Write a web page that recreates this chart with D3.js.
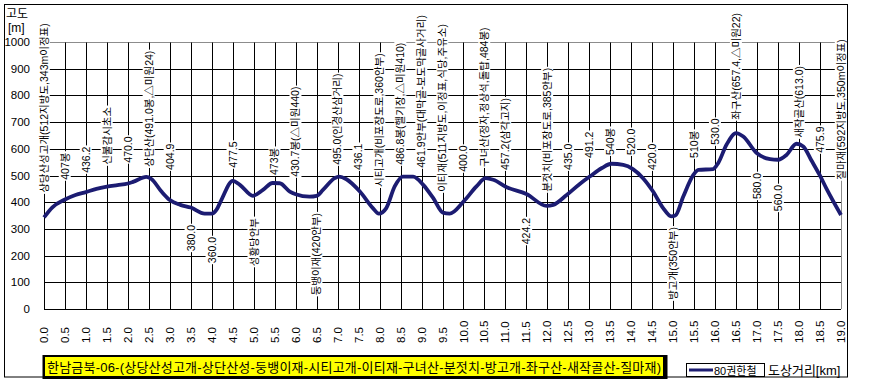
<!DOCTYPE html>
<meta charset="utf-8">
<script src="https://d3js.org/d3.v7.min.js"></script>
<style>
  body { margin: 0; background: #fff; }
  svg text { font-family: 'Liberation Sans', 'Noto Sans CJK KR', sans-serif; }
</style>
<body>
<div id="my_dataviz"></div>
<script>

// profile (distance km / elevation m)
var distKm = [0.0, 0.2, 0.5, 0.75, 1.0, 1.25, 1.5, 1.75, 2.0, 2.12, 2.44, 2.56, 2.8, 3.0, 3.25, 3.5,
  3.83, 4.0, 4.11, 4.23, 4.5, 4.67, 4.98, 5.22, 5.45, 5.62, 5.86, 6.0, 6.33, 6.5, 6.65, 6.93,
  7.03, 7.21, 7.53, 7.84, 7.98, 8.16, 8.36, 8.55, 8.8, 9.04, 9.28, 9.51, 9.67, 10.0, 10.31, 10.53,
  10.71, 11.03, 11.5, 11.98, 12.14, 12.46, 12.78, 13.01, 13.3, 13.53, 13.81, 14.04, 14.28, 14.52,
  14.76, 14.95, 15.05, 15.24, 15.48, 15.6, 15.95, 16.07, 16.27, 16.5, 16.67, 16.99, 17.31, 17.5,
  17.7, 17.94, 18.1, 18.3, 18.49, 18.65, 19.0];
var elevM = [343, 381, 410, 427, 438, 450, 458, 464, 470, 476, 495, 487, 440, 408, 390, 380,
  357, 357, 371, 409, 480, 465, 424, 446, 472, 471, 440, 430, 421, 424, 446, 490,
  496, 486, 440, 378, 357, 378, 459, 496, 496, 465, 415, 361, 357, 402, 459, 490,
  484, 456, 431, 386, 390, 427, 469, 496, 528, 544, 540, 524, 490, 440,
  378, 347, 350, 421, 502, 521, 524, 546, 615, 659, 646, 584, 561, 559,
  577, 619, 609, 555, 502, 452, 352];

var yTicks = [0, 100, 200, 300, 400, 500, 600, 700, 800, 900, 1000];
var xTicks = [0.0, 0.5, 1.0, 1.5, 2.0, 2.5, 3.0, 3.5, 4.0, 4.5, 5.0, 5.5, 6.0, 6.5, 7.0, 7.5, 8.0, 8.5, 9.0, 9.5,
  10.0, 10.5, 11.0, 11.5, 12.0, 12.5, 13.0, 13.5, 14.0, 14.5, 15.0, 15.5, 16.0, 16.5, 17.0, 17.5, 18.0, 18.5, 19.0];

// waypoint notes: where (km), what, height (m) the note starts, above/below the line
var noteKm = [0.0, 0.5, 1.0, 1.5, 2.0, 2.5, 3.0, 3.5, 4.0, 4.5, 5.0, 5.5, 6.0, 6.5, 7.0, 7.5, 8.0, 8.5, 9.0, 9.5,
  10.0, 10.5, 11.0, 11.5, 12.0, 12.5, 13.0, 13.5, 14.0, 14.5, 15.0, 15.5, 16.0, 16.5, 17.0, 17.5, 18.0, 18.5, 19.0];
var noteText = [
  "상당산성고개(512지방도,343m이정표)", "407봉", "436.2", "신불감시초소", "470.0",
  "상단산(491.0봉,△미원24)", "404.9", "380.0", "360.0", "477.5",
  "성황당안부", "473봉", "430.7봉(△미원440)", "둥뱅이재(420안부)", "495.0(인경산삼거리)",
  "436.1", "시티고개(비포장도로,360안부)", "486.8봉(헬기장,△미원410)", "461.9안부(대막골-보도막골사거리)", "이티재(511지방도,이정표,식당,주유소)",
  "400.0", "구녀산(정자,정상석,돌탑,484봉)", "457.2(삼각고지)", "424.2", "분젓치(비포장도로,385안부)",
  "435.0", "491.2", "540봉", "520.0", "420.0",
  "방고개(350안부)", "510봉", "530.0", "좌구산(657.4,△미원22)", "580.0",
  "560.0", "새작골산(613.0)", "475.9", "질마재(592지방도,350m이정표)"];
var noteAt = [435, 484, 510, 540, 548, 532, 521, 315, 270, 529,
  341, 502, 495, 360, 540, 521, 457, 540, 529, 439,
  514, 532, 521, 341, 439, 521, 566, 577, 577, 521,
  307, 566, 615, 709, 510, 465, 641, 585, 484];
var noteUp = [1, 1, 1, 1, 1, 1, 1, 0, 0, 1, 0, 1, 1, 0, 1, 1, 1, 1, 1, 1,
  1, 1, 1, 0, 1, 1, 1, 1, 1, 1, 0, 1, 1, 1, 0, 0, 1, 1, 1];

var title = "한남금북-06-(상당산성고개-상단산성-둥뱅이재-시티고개-이티재-구녀산-분젓치-방고개-좌구산-새작골산-질마재)";
var seriesName = "80권한철";

var W = 880, H = 384;
var margin = { top: 42, right: 39, bottom: 75, left: 44 },
  width = W - margin.left - margin.right,
  height = H - margin.top - margin.bottom;

var svgRoot = d3.select("#my_dataviz").append("svg")
  .attr("width", W).attr("height", H);

// outer frame
svgRoot.append("rect")
  .attr("x", 4.5).attr("y", 4.5).attr("width", 843).attr("height", 372.5)
  .attr("fill", "none").attr("stroke", "#000");

var svg = svgRoot.append("g")
  .attr("transform", "translate(" + margin.left + "," + margin.top + ")");

var x = d3.scaleLinear().domain([0, 19]).range([0, width]);
var y = d3.scaleLinear().domain([0, 1000]).range([height, 0]);

// grid
svg.append("g").selectAll("line").data(yTicks).enter().append("line")
  .attr("x1", 0).attr("x2", width)
  .attr("y1", function (d) { return Math.round(y(d)) + 0.5; })
  .attr("y2", function (d) { return Math.round(y(d)) + 0.5; })
  .attr("stroke", function (d) { return d == 1000 ? "#8c8c8c" : "#000"; });
svg.append("g").selectAll("line").data(xTicks).enter().append("line")
  .attr("x1", function (d) { return Math.round(x(d)) + 0.5; })
  .attr("x2", function (d) { return Math.round(x(d)) + 0.5; })
  .attr("y1", Math.round(y(1000)) + 0.5).attr("y2", height)
  .attr("stroke", function (d) { return d == 19 ? "#8c8c8c" : "#000"; });

// y axis labels
svg.append("g").selectAll("text").data(yTicks).enter().append("text")
  .attr("x", -14).attr("y", function (d) { return y(d); })
  .attr("dy", "0.35em").attr("text-anchor", "end")
  .style("font-size", "11.5px").text(function (d) { return d; });

// x axis labels (vertical)
svg.append("g").selectAll("text").data(xTicks).enter().append("text")
  .attr("transform", function (d) { return "translate(" + x(d) + "," + (height + 34) + ") rotate(-90)"; })
  .attr("dy", "0.35em").attr("text-anchor", "start")
  .style("font-size", "11.5px").text(function (d) { return d3.format(".1f")(d); });

// axis titles
svgRoot.append("text").attr("x", 6).attr("y", 18).style("font-size", "12px").text("고도");
svgRoot.append("text").attr("x", 8).attr("y", 32).style("font-size", "12px").text("[m]");

// notes
noteKm.forEach(function (km, i) {
  var g = svg.append("g")
    .attr("transform", "translate(" + x(km) + "," + y(noteAt[i]) + ") rotate(-90)");
  var t = g.append("text")
    .attr("dy", "0.36em")
    .attr("text-anchor", noteUp[i] ? "start" : "end")
    .style("font-size", "10.5px")
    .text(noteText[i]);
  var bb = t.node().getBBox();
  g.insert("rect", "text")
    .attr("x", bb.x - 1).attr("y", bb.y)
    .attr("width", bb.width + 2).attr("height", bb.height)
    .attr("fill", "#fff");
});

// profile line
var line = d3.line()
  .x(function (d, i) { return x(distKm[i]); })
  .y(function (d) { return y(d); })
  .curve(d3.curveMonotoneX);
svg.append("path")
  .datum(elevM)
  .attr("d", line)
  .attr("fill", "none")
  .attr("stroke", "#1c1c72")
  .attr("stroke-width", 3.8)
  .attr("stroke-linejoin", "round");

// title box
svgRoot.append("rect").attr("x", 42.5).attr("y", 355).attr("width", 625).attr("height", 24).attr("fill", "#000");
svgRoot.append("rect").attr("x", 45).attr("y", 357).attr("width", 618).attr("height", 19).attr("fill", "#ffff00");
svgRoot.append("text").attr("x", 47).attr("y", 371.5)
  .style("font-size", "13px").attr("textLength", 614).attr("lengthAdjust", "spacing").text(title);

// legend
svgRoot.append("rect").attr("x", 686.5).attr("y", 363.5).attr("width", 78).attr("height", 13)
  .attr("fill", "#fff").attr("stroke", "#000");
svgRoot.append("line").attr("x1", 689).attr("x2", 713).attr("y1", 370).attr("y2", 370)
  .attr("stroke", "#1c1c72").attr("stroke-width", 3);
svgRoot.append("text").attr("x", 714).attr("y", 374.5).style("font-size", "11px").text(seriesName);
svgRoot.append("text").attr("x", 768).attr("y", 375).style("font-size", "13px").text("도상거리[km]");

</script>
</body>
